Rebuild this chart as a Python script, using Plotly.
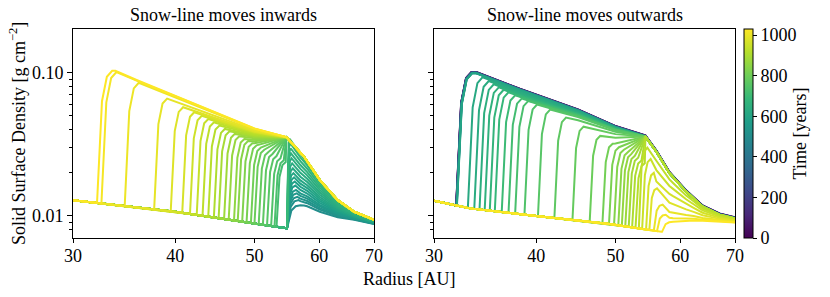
import numpy as np
import plotly.graph_objects as go
import plotly.colors as pc

# ---------------- data ----------------
T_MAX = 1030.0

# shared rise shape after the snow-line jump (offset in AU, fraction in log space)
RISE_DR = [0.0, 0.45, 0.9, 1.4]
RISE_FRAC = [0.0, 0.77, 0.955, 1.0]

# ---- left panel: snow-line moves inwards ----
L_BASE_R = [30.0, 40.0, 54.8]
L_BASE_S = [0.0129, 0.0107, 0.0082]
L_ENV_R = [33.8, 36.0, 40.0, 45.0, 50.0, 54.7, 57.5, 60.1, 63.2, 66.2, 70.0]
L_ENV_S = [0.104, 0.089, 0.0695, 0.0524, 0.0409, 0.0355, 0.0259, 0.0178, 0.0129, 0.0107, 0.0094]
L_LOW_R = [56.9, 58.0, 60.1, 63.2, 66.2, 70.0]
L_LOW_S = [0.0120, 0.0117, 0.0107, 0.0098, 0.0094, 0.0088]
L_KINK = 54.7

L_DOME_T = [505, 518, 530, 543, 555, 568, 580, 593, 605, 618, 630, 643, 655, 668, 680, 693]
L_DOME_SNOW = [54.8] * 16
L_DOME_PEAK_R = [56.9, 56.6, 56.4, 56.3, 56.2, 56.1, 56.0, 55.9, 55.8, 55.7, 55.6, 55.5, 55.4, 55.35, 55.3, 55.2]
L_DOME_H = [0.0119, 0.0129, 0.0136, 0.0144, 0.0152, 0.0163, 0.0174, 0.0186, 0.0199, 0.0215,
            0.0233, 0.0253, 0.0274, 0.0297, 0.0322, 0.0345]

L_MOVE_T = [718, 730, 743, 755, 768, 780, 793, 805, 818, 830, 843, 855, 868, 880, 893, 905,
            918, 930, 943, 955, 968, 980, 993, 1005, 1018, 1030]
L_MOVE_R = [53.2, 52.9, 52.4, 51.8, 51.2, 50.6, 50.0, 49.5, 48.9, 48.3, 47.7, 47.2, 46.5, 45.9,
            45.2, 44.6, 43.9, 43.2, 42.5, 41.7, 40.8, 39.5, 37.7, 34.7, 32.5, 32.1]
L_MOVE_P = [0.0238, 0.0245, 0.0253, 0.0262, 0.0271, 0.0280, 0.0290, 0.0300, 0.0311, 0.0322,
            0.0333, 0.0345, 0.0360, 0.0374, 0.0390, 0.0405, 0.0428, 0.0450, 0.0475, 0.0500,
            0.0530, 0.0574, 0.0660, 0.0850, 0.1010, 0.1030]

# ---- right panel: snow-line moves outwards ----
R_BASE_R = [30.0, 33.2, 40.0, 49.2, 56.9]
R_BASE_S = [0.0128, 0.0113, 0.0100, 0.0088, 0.00775]
R_ENV_R = [33.8, 38.2, 45.0, 50.0, 54.4, 56.1, 58.2, 61.0, 63.9, 67.0, 70.0]
R_ENV_S = [0.099, 0.0757, 0.0543, 0.0416, 0.0358, 0.0281, 0.0199, 0.0148, 0.0116, 0.0102, 0.0096]
R_LOW_R = [58.8, 62.3, 66.0, 70.0]
R_LOW_S = [0.0091, 0.0093, 0.0092, 0.0090]
R_KINK = 54.4

R_EARLY_T = [0, 55, 110, 165, 220, 275, 330, 385, 440, 495, 550, 600]
R_EARLY_R = [31.93, 31.935, 31.94, 31.945, 31.95, 31.955, 31.96, 31.965, 31.97, 31.98, 31.99, 32.0]
R_EARLY_SCALE = [1.02, 1.018, 1.016, 1.014, 1.012, 1.01, 1.008, 1.006, 1.004, 1.003, 1.001, 1.0]

R_MOVE_T = [620, 633, 647, 660, 674, 687, 701, 714, 727, 741, 754, 768, 781, 794, 808, 821,
            835, 848, 861, 875, 888, 902, 915]
R_MOVE_R = [33.0, 33.6, 34.1, 34.6, 35.1, 35.6, 36.3, 37.0, 37.7, 38.7, 40.2, 42.1, 44.3, 46.5,
            48.2, 49.1, 49.8, 50.4, 50.9, 51.4, 51.9, 52.4, 52.9]
R_MOVE_P = [0.093, 0.0875, 0.083, 0.079, 0.076, 0.073, 0.0695, 0.066, 0.0634, 0.060, 0.0553,
            0.0486, 0.042, 0.0362, 0.0319, 0.0302, 0.029, 0.028, 0.0271, 0.0263, 0.0255, 0.0244, 0.0233]

R_DOME_T = [932, 948, 965, 981, 997, 1014, 1030]
R_DOME_SNOW = [53.4, 53.9, 54.5, 55.0, 55.7, 56.2, 57.0]
R_DOME_PEAK_R = [54.7, 55.2, 55.7, 56.2, 57.1, 57.6, 58.8]
R_DOME_H = [0.0300, 0.0250, 0.0200, 0.0156, 0.0120, 0.0102, 0.0091]

X_TICKS = [30, 40, 50, 60, 70]
Y_TICKS = [0.01, 0.1]
Y_TICK_TEXT = ["0.01", "0.10"]
Y_MINOR = [0.008, 0.009, 0.02, 0.03, 0.04, 0.05, 0.06, 0.07, 0.08, 0.09]
CB_TICKS = [0, 200, 400, 600, 800, 1000]


# ---------------- helpers ----------------
def li(r, R, S):
    return float(np.exp(np.interp(np.log(r), np.log(R), np.log(S))))


def base_part(rs, br, bs):
    xs = [r for r in br if r < rs]
    ys = [s for r, s in zip(br, bs) if r < rs]
    b = li(rs, br, bs)
    xs.append(rs)
    ys.append(b)
    return xs, ys, b


def moving_curve(rs, P, br, bs, er, es, kink, scale=1.0):
    xs, ys, b = base_part(rs, br, bs)
    for dr, fr in zip(RISE_DR[1:], RISE_FRAC[1:]):
        xs.append(rs + dr)
        ys.append(float(np.exp(np.log(b) + fr * (np.log(P) - np.log(b)))))
    rc = rs + RISE_DR[-1]
    f0 = P / (scale * li(rc, er, es))
    for r, s in zip(er, es):
        if r <= rc:
            continue
        if r < kink:
            k = (kink - r) / (kink - rc)
            ys.append(scale * s * f0 ** k)
        else:
            ys.append(scale * s)
        xs.append(r)
    return xs, ys


def dome_curve(rs, rp, H, br, bs, er, es, lr, ls, kink):
    xs, ys, b = base_part(rs, br, bs)
    sc = (rp - rs) / RISE_DR[-1]
    for dr, fr in zip(RISE_DR[1:], RISE_FRAC[1:]):
        xs.append(rs + dr * sc)
        ys.append(float(np.exp(np.log(b) + fr * (np.log(H) - np.log(b)))))
    low0 = ls[0]
    envk = li(kink, er, es)
    w = np.log(H / low0) / np.log(envk / low0)
    w = float(min(max(w, 0.0), 1.0))
    tail = sorted(set([r for r in er if r > rp and r >= kink] + [r for r in lr if r > rp]))
    for r in tail:
        xs.append(r)
        ys.append(li(r, lr, ls) ** (1 - w) * li(r, er, es) ** w)
    return xs, ys


def col(t):
    return pc.sample_colorscale("Viridis", [t / T_MAX])[0]


# ---------------- figure ----------------
W, Hh = 830, 297
fig = go.Figure()
LW = 2.0

# left panel
for t, rs, rp, h in zip(L_DOME_T, L_DOME_SNOW, L_DOME_PEAK_R, L_DOME_H):
    x, y = dome_curve(rs, rp, h, L_BASE_R, L_BASE_S, L_ENV_R, L_ENV_S, L_LOW_R, L_LOW_S, L_KINK)
    fig.add_trace(go.Scatter(x=x, y=y, mode="lines", line=dict(color=col(t), width=LW),
                             xaxis="x", yaxis="y", showlegend=False, hoverinfo="skip"))
for t, rs, p in zip(L_MOVE_T, L_MOVE_R, L_MOVE_P):
    x, y = moving_curve(rs, p, L_BASE_R, L_BASE_S, L_ENV_R, L_ENV_S, L_KINK)
    fig.add_trace(go.Scatter(x=x, y=y, mode="lines", line=dict(color=col(t), width=LW),
                             xaxis="x", yaxis="y", showlegend=False, hoverinfo="skip"))

# right panel
for t, rs, scl in zip(R_EARLY_T, R_EARLY_R, R_EARLY_SCALE):
    p = scl * li(rs + RISE_DR[-1], R_ENV_R, R_ENV_S)
    x, y = moving_curve(rs, p, R_BASE_R, R_BASE_S, R_ENV_R, R_ENV_S, R_KINK, scale=scl)
    fig.add_trace(go.Scatter(x=x, y=y, mode="lines", line=dict(color=col(t), width=LW),
                             xaxis="x2", yaxis="y2", showlegend=False, hoverinfo="skip"))
for t, rs, p in zip(R_MOVE_T, R_MOVE_R, R_MOVE_P):
    x, y = moving_curve(rs, p, R_BASE_R, R_BASE_S, R_ENV_R, R_ENV_S, R_KINK)
    fig.add_trace(go.Scatter(x=x, y=y, mode="lines", line=dict(color=col(t), width=LW),
                             xaxis="x2", yaxis="y2", showlegend=False, hoverinfo="skip"))
for t, rs, rp, h in zip(R_DOME_T, R_DOME_SNOW, R_DOME_PEAK_R, R_DOME_H):
    x, y = dome_curve(rs, rp, h, R_BASE_R, R_BASE_S, R_ENV_R, R_ENV_S, R_LOW_R, R_LOW_S, R_KINK)
    fig.add_trace(go.Scatter(x=x, y=y, mode="lines", line=dict(color=col(t), width=LW),
                             xaxis="x2", yaxis="y2", showlegend=False, hoverinfo="skip"))

FONT = "'Liberation Serif', 'DejaVu Serif', 'Times New Roman', serif"
FS = 18

# colorbar carrier
fig.add_trace(go.Scatter(
    x=[R_BASE_R[0]], y=[R_BASE_S[0]], mode="markers", xaxis="x2", yaxis="y2",
    showlegend=False, hoverinfo="skip",
    marker=dict(size=1, opacity=0, color=[0], colorscale="Viridis", cmin=0, cmax=T_MAX,
                showscale=True,
                colorbar=dict(thickness=9, thicknessmode="pixels", len=209, lenmode="pixels",
                              x=744 / W, xanchor="left", y=(Hh - 238) / Hh, yanchor="bottom",
                              xpad=0, ypad=0, outlinewidth=1, outlinecolor="black",
                              tickvals=CB_TICKS, ticks="outside", ticklen=4, tickcolor="black",
                              tickfont=dict(family=FONT, size=FS, color="black"),
                              title=dict(text="Time [years]", side="right",
                                         font=dict(family=FONT, size=FS, color="black"))))))

yr = [np.log10(0.00702), np.log10(0.2018)]
xr = [np.log10(30), np.log10(70)]
ydom = [(Hh - 238) / Hh, (Hh - 29) / Hh]

common_x = dict(type="log", range=xr, tickvals=X_TICKS, ticktext=[str(v) for v in X_TICKS],
                ticks="outside", ticklen=4, tickcolor="black", showgrid=False, zeroline=False,
                showline=True, linecolor="black", linewidth=1, mirror=True, ticklabelstandoff=-3,
                tickfont=dict(family=FONT, size=FS, color="black"), automargin=False)
common_y = dict(type="log", range=yr, tickvals=Y_TICKS, ticks="outside", ticklen=5,
                tickcolor="black", showgrid=False, zeroline=False, showline=True,
                linecolor="black", linewidth=1, mirror=True,
                minor=dict(tickvals=Y_MINOR, ticks="outside", ticklen=3, tickcolor="black", showgrid=False),
                tickfont=dict(family=FONT, size=FS, color="black"), automargin=False, domain=ydom)

fig.update_layout(
    width=W, height=Hh, margin=dict(l=0, r=0, t=0, b=0),
    paper_bgcolor="white", plot_bgcolor="white",
    font=dict(family=FONT, size=FS, color="black"),
    xaxis=dict(common_x, domain=[73 / W, 374 / W], anchor="y"),
    yaxis=dict(common_y, ticktext=Y_TICK_TEXT, anchor="x"),
    xaxis2=dict(common_x, domain=[434 / W, 735 / W], anchor="y2"),
    yaxis2=dict(common_y, showticklabels=False, anchor="x2"),
    annotations=[
        dict(text="Snow-line moves inwards", x=223.5 / W, y=1 - 15 / Hh, xref="paper", yref="paper",
             showarrow=False, xanchor="center", yanchor="middle", font=dict(family=FONT, size=FS)),
        dict(text="Snow-line moves outwards", x=584.5 / W, y=1 - 15 / Hh, xref="paper", yref="paper",
             showarrow=False, xanchor="center", yanchor="middle", font=dict(family=FONT, size=FS)),
        dict(text="Radius [AU]", x=409 / W, y=1 - 279 / Hh, xref="paper", yref="paper",
             showarrow=False, xanchor="center", yanchor="middle", font=dict(family=FONT, size=FS)),
        dict(text="Solid Surface Density [g cm<sup>−2</sup>]", x=18 / W, y=1 - 134 / Hh,
             xref="paper", yref="paper", textangle=-90, showarrow=False,
             xanchor="center", yanchor="middle", font=dict(family=FONT, size=FS)),
    ],
)

fig.write_html("out.html", config={"displayModeBar": False},
               post_script="document.body.style.margin='0px';")
